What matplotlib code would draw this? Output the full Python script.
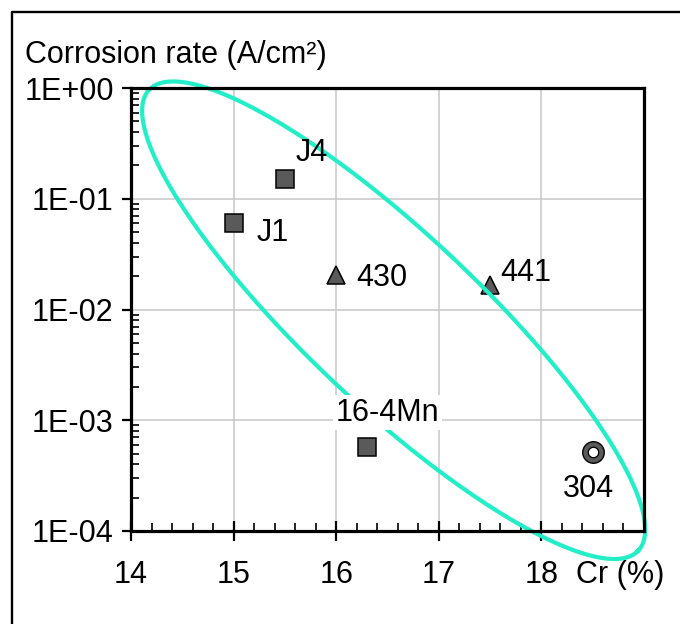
import numpy as np
import matplotlib.pyplot as plt
from matplotlib.lines import Line2D
from matplotlib.ticker import FixedLocator, FuncFormatter, LogLocator, AutoMinorLocator, NullFormatter

plt.rcParams["font.family"] = ["Liberation Sans", "DejaVu Sans"]

# corrosion rate vs chromium content for each grade
grades = ["J1", "J4", "430", "441", "16-4Mn", "304"]
cr_pct = [15.0, 15.5, 16.0, 17.5, 16.3, 18.5]
corrosion_rate = [6.0e-2, 1.5e-1, 2.05e-2, 1.65e-2, 5.7e-4, 5.2e-4]

x_ticks = [14, 15, 16, 17, 18]
y_ticks = [1e-4, 1e-3, 1e-2, 1e-1, 1e0]

# ellipse around the group: centre in data units, half axes in px, tilt in deg
ellipse_centre = (16.56, 8.0e-3)
ellipse_half_axes = (336, 86)
ellipse_tilt = -43.3

GREY = "#5a5a5a"
CYAN = "#22eec8"
FS = 22

marker_of = {"J1": "s", "J4": "s", "430": "^", "441": "^", "16-4Mn": "s", "304": "o"}
# label offset from its marker, in points
label_offset = {
    "J1": (28, -7),
    "J4": (19, 19),
    "430": (33, -2),
    "441": (26, 9),
    "16-4Mn": (15, 25),
    "304": (-3, -27),
}

fig = plt.figure(figsize=(6.8, 6.24), dpi=100)
ax = fig.add_axes([131 / 680, 1 - 531 / 624, 513 / 680, 443 / 624])

ax.set_xlim(14, 19)
ax.set_yscale("log")
ax.set_ylim(1e-4, 1e0)

ax.xaxis.set_major_locator(FixedLocator(x_ticks))
ax.xaxis.set_minor_locator(AutoMinorLocator(5))
ax.yaxis.set_major_locator(FixedLocator(y_ticks))
ax.yaxis.set_minor_locator(LogLocator(base=10, subs=np.arange(2, 10)))
ax.yaxis.set_minor_formatter(NullFormatter())
ax.yaxis.set_major_formatter(FuncFormatter(lambda v, _: f"{v:.0E}"))

ax.tick_params(axis="x", which="major", direction="inout", length=14, width=1.6,
               pad=14, labelsize=FS)
ax.tick_params(axis="x", which="minor", direction="in", length=6, width=1.2)
ax.tick_params(axis="y", which="major", direction="out", length=6.5, width=1.6,
               pad=6, labelsize=FS)
ax.tick_params(axis="y", which="minor", direction="in", length=5.5, width=1.2)

for s in ax.spines.values():
    s.set_linewidth(2.3)
    s.set_zorder(6)

# light grid at the inner major ticks
for xv in x_ticks[1:]:
    ax.axvline(xv, color="#c8c8c8", lw=1.1, zorder=0)
for yv in y_ticks[1:-1]:
    ax.axhline(yv, color="#c8c8c8", lw=1.1, zorder=0)

for g, x, y in zip(grades, cr_pct, corrosion_rate):
    m = marker_of[g]
    if m == "o":
        ax.plot(x, y, marker="o", ms=15.5, mfc=GREY, mec="black", mew=1.0, ls="none", zorder=3)
        ax.plot(x, y, marker="o", ms=7.5, mfc="white", mec="black", mew=0.9, ls="none", zorder=3)
    else:
        ax.plot(x, y, marker=m, ms=13, mfc=GREY, mec="black", mew=1.1, ls="none", zorder=3)
    box = dict(fc="white", ec="none", pad=2) if g == "16-4Mn" else None
    ax.annotate(g, (x, y), xytext=label_offset[g], textcoords="offset points",
                ha="center", va="center", fontsize=FS, bbox=box, zorder=5)

# ellipse drawn in display space so it stays an ellipse on the log axis
t = np.linspace(0, 2 * np.pi, 500)
a, b = ellipse_half_axes
th = np.deg2rad(ellipse_tilt)
cx, cy = ax.transData.transform(ellipse_centre)
px = cx + a * np.cos(th) * np.cos(t) - b * np.sin(th) * np.sin(t)
py = cy + a * np.sin(th) * np.cos(t) + b * np.cos(th) * np.sin(t)
exy = ax.transData.inverted().transform(np.column_stack([px, py]))
ax.plot(exy[:, 0], exy[:, 1], color=CYAN, lw=3, clip_on=False, zorder=4)

fig.text(25 / 680, 1 - 63 / 624, "Corrosion rate (A/cm²)", fontsize=FS, va="baseline")
fig.text(576 / 680, 1 - 583 / 624, "Cr (%)", fontsize=FS, va="baseline")

# cropped frame: only left and top edges fall inside the picture
fig.add_artist(Line2D([12 / 680, 12 / 680, 1], [0, 1 - 12 / 624, 1 - 12 / 624],
                      color="black", lw=1.7, transform=fig.transFigure))

fig.savefig("out.png", dpi=100)
